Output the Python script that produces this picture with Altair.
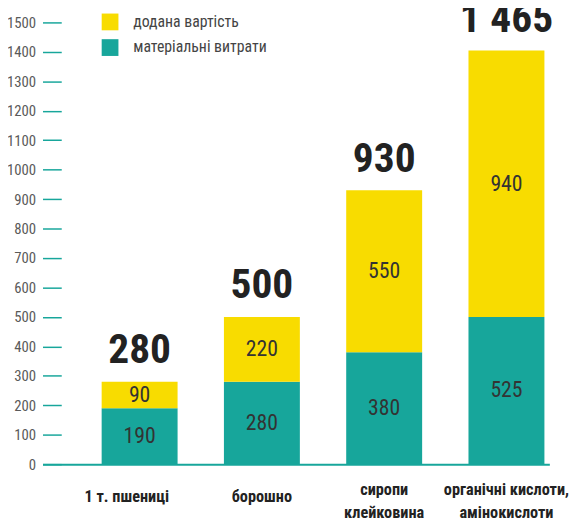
import altair as alt
import pandas as pd

categories = ["1 т. пшениці", "борошно", "сиропи|клейковина", "органічні кислоти,|амінокислоти"]
# bar heights as drawn in the picture
material = [190, 280, 380, 500]
added = [90, 220, 550, 905]
# printed labels
material_labels = ["190", "280", "380", "525"]
added_labels = ["90", "220", "550", "940"]
total_labels = ["280", "500", "930", "1 465"]
series_names = ["додана вартість", "матеріальні витрати"]
y_ticks = list(range(0, 1501, 100))

YELLOW = "#F8DC00"
TEAL = "#17A69B"
FONT = "Roboto Condensed, DejaVu Sans Condensed, Roboto, sans-serif"

rows = []
for i, c in enumerate(categories):
    rows.append(dict(cat=c, series=series_names[1], start=0, end=material[i],
                     mid=material[i] / 2, label=material_labels[i], order=i))
    rows.append(dict(cat=c, series=series_names[0], start=material[i], end=material[i] + added[i],
                     mid=material[i] + added[i] / 2, label=added_labels[i], order=i))
seg = pd.DataFrame(rows)
tot = pd.DataFrame(dict(cat=categories,
                        total=[m + a for m, a in zip(material, added)],
                        label=total_labels))

xscale = alt.Scale(paddingInner=0.379, paddingOuter=0.262, align=0.923)
xaxis = alt.Axis(title=None, ticks=False, labelAngle=0, domainColor=TEAL,
                 domainWidth=2, labelFont=FONT, labelFontSize=16.5,
                 labelFontWeight="bold", labelColor="#222222",
                 labelPadding={"condition": {"test": "indexof(datum.value, '|') >= 0",
                                             "value": 26}, "value": 33},
                 labelOffset={"condition": {"test": "datum.value == '1 т. пшениці'",
                                            "value": -13}, "value": 0},
                 labelBaseline="middle",
                 labelExpr="split(datum.label, '|')", labelLineHeight=23,
                 labelOverlap=False, labelLimit=300)
yscale = alt.Scale(domain=[0, 1500], nice=False)
yaxis = alt.Axis(title=None, values=y_ticks, format="d", domain=False, grid=False,
                 tickColor=TEAL, tickSize=19, tickWidth=1.5, offset=-19, labelPadding=7,
                 labelFont=FONT, labelFontSize=15, labelColor="#5a5a5a",
                 labelOverlap=False)

def X():
    return alt.X("cat:N", sort=categories, scale=xscale, axis=xaxis)

bars = alt.Chart(seg).mark_bar().encode(
    x=X(),
    y=alt.Y("start:Q", scale=yscale, axis=yaxis),
    y2="end:Q",
    color=alt.Color("series:N",
                    scale=alt.Scale(domain=series_names, range=[YELLOW, TEAL]),
                    legend=alt.Legend(title=None, orient="none", legendX=60, legendY=-9,
                                      symbolType="square", symbolSize=289,
                                      symbolStrokeWidth=0, symbolOpacity=1,
                                      labelFont=FONT, labelFontSize=16,
                                      labelColor="#444444", labelOffset=15,
                                      labelLimit=300, rowPadding=9, padding=0)),
)

seg_text = alt.Chart(seg).mark_text(font=FONT, fontSize=22, color="#333333",
                                    baseline="middle").encode(
    x=X(),
    y=alt.Y("mid:Q", scale=yscale, axis=yaxis),
    text="label:N",
)

tot_text = alt.Chart(tot).mark_text(font=FONT, fontSize=42, fontWeight="bold",
                                    color="#222222", baseline="bottom", dy=-10).encode(
    x=X(),
    y=alt.Y("total:Q", scale=yscale, axis=yaxis),
    text="label:N",
)

chart = alt.layer(bars, seg_text, tot_text).properties(
    width=514, height=448,
    autosize=alt.AutoSizeParams(type="none"),
    padding={"left": 35, "top": 11, "right": 25, "bottom": 54},
).configure_view(stroke=None)

chart.save("out.html", embed_options={"renderer": "svg", "actions": False})
